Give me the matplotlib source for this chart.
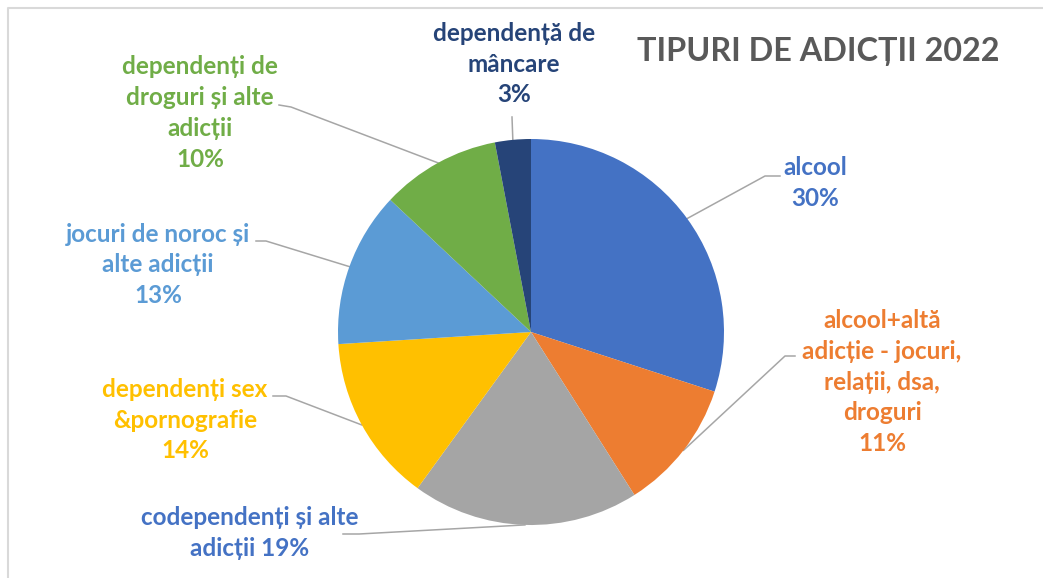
import numpy as np
import matplotlib
matplotlib.use("Agg")
import matplotlib.pyplot as plt

# ---- data ----
categories = [
    "alcool",
    "alcool+altă\nadicție - jocuri,\nrelații, dsa,\ndroguri",
    "codependenți și alte\nadicții",
    "dependenți sex\n&pornografie",
    "jocuri de noroc și\nalte adicții",
    "dependenți de\ndroguri și alte\nadicții",
    "dependență de\nmâncare",
]
percents = [30, 11, 19, 14, 13, 10, 3]
slice_colors = ["#4472C4", "#ED7D31", "#A5A5A5", "#FFC000", "#5B9BD5", "#70AD47", "#264478"]
label_colors = ["#4472C4", "#ED7D31", "#4472C4", "#FFC000", "#5B9BD5", "#70AD47", "#264478"]
title = "TIPURI DE ADICȚII 2022"

W, H = 1043, 578
plt.rcParams['font.family'] = ['Lato', 'DejaVu Sans']

fig = plt.figure(figsize=(W / 100, H / 100), dpi=100)
ax = fig.add_axes([0, 0, 1, 1])
ax.axis("off")

def Y(y):
    return H - y

# border
ax.plot([8, 8, W + 5], [Y(H + 5), Y(8), Y(8)], color="#D9D9D9", lw=1.5)

cx, cy, r = 531, Y(332), 193
wedges, _ = ax.pie(percents, colors=slice_colors, startangle=90, counterclock=False,
                   center=(cx, cy), radius=r, wedgeprops=dict(linewidth=0))
ax.set_xlim(0, W)
ax.set_ylim(0, H)
ax.set_aspect("equal")

# label layout: (text center x, text center y, elbow points)
layout = [
    (815, 183, [(780, 176), (765, 176)]),
    (882, 382, [(795, 356), (785, 356)]),
    (250, 533, [(343, 534), (359, 534)]),
    (185, 420, [(273, 396), (286, 396)]),
    (158, 265, [(256, 241), (266, 241)]),
    (200, 113, [(279, 105), (291, 107)]),
    (514, 64, [(512, 117)]),
]

cum = np.cumsum([0] + percents)
total = sum(percents)
for i, (cat, p) in enumerate(zip(categories, percents)):
    mid = 90 - 360 * (cum[i] + p / 2) / total
    ex = cx + r * np.cos(np.radians(mid))
    ey = cy + r * np.sin(np.radians(mid))
    tx, ty, elbow = layout[i]
    if i == 2:
        txt = cat + f" {p}%"
    else:
        txt = cat + f"\n{p}%"
    ax.text(tx, Y(ty), txt, ha="center", va="center", fontsize=17.5, fontweight="bold",
            color=label_colors[i], linespacing=1.42)
    xs = [e[0] for e in elbow] + [ex]
    ys = [Y(e[1]) for e in elbow] + [ey]
    ax.plot(xs, ys, color="#A6A6A6", lw=1.1, zorder=0.5)

ax.text(818, Y(52), title, ha="center", va="center", fontsize=23.3, fontweight="bold",
        color="#595959")

fig.savefig("out.png", dpi=100)
